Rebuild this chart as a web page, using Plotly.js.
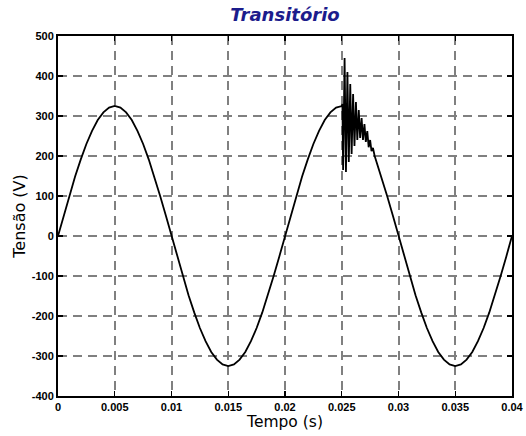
<!DOCTYPE html>
<html>
<head>
<meta charset="utf-8">
<script src="https://cdn.plot.ly/plotly-3.0.1.min.js"></script>
<style>html,body{margin:0;padding:0;background:#fff;}#chart{width:526px;height:436px;}</style>
</head>
<body>
<div id="chart"></div>
<script>
// Tempo (s) and Tensão (V)
var tempoAntes = [0,0.0005,0.001,0.0015,0.002,0.0025,0.003,0.0035,0.004,0.0045,0.005,
  0.0055,0.006,0.0065,0.007,0.0075,0.008,0.0085,0.009,0.0095,0.01,
  0.0105,0.011,0.0115,0.012,0.0125,0.013,0.0135,0.014,0.0145,0.015,
  0.0155,0.016,0.0165,0.017,0.0175,0.018,0.0185,0.019,0.0195,0.02,
  0.0205,0.021,0.0215,0.022,0.0225,0.023,0.0235,0.024,0.0245,0.025];
var tensaoAntes = [0,51,100,148,191,230,263,290,309,321,325,
  321,309,290,263,230,191,148,100,51,0,
  -51,-100,-148,-191,-230,-263,-290,-309,-321,-325,
  -321,-309,-290,-263,-230,-191,-148,-100,-51,0,
  51,100,148,191,230,263,290,309,321,325];
var tempoTransitorio = [0.02506,0.02512,0.02525,0.02537,0.0255,0.02562,0.02575,0.02587,0.026,0.02612,
  0.02625,0.02637,0.0265,0.02662,0.02675,0.02687,0.027,0.02712,0.02725,0.02737,
  0.0275,0.02762,0.02775,0.0279];
var tensaoTransitorio = [330,165,445,160,410,185,380,205,355,225,
  335,240,315,245,295,240,280,235,262,222,
  240,212,220,200];
var tempoDepois = [0.028,0.0285,0.029,0.0295,0.03,0.0305,0.031,0.0315,0.032,0.0325,0.033,
  0.0335,0.034,0.0345,0.035,0.0355,0.036,0.0365,0.037,0.0375,0.038,0.0385,0.039,0.0395,0.04];
var tensaoDepois = [191,148,100,51,0,-51,-100,-148,-191,-230,-263,
  -290,-309,-321,-325,-321,-309,-290,-263,-230,-191,-148,-100,-51,0];

var xTicks = [0,0.005,0.01,0.015,0.02,0.025,0.03,0.035,0.04];
var xTickLabels = ['0','0.005','0.01','0.015','0.02','0.025','0.03','0.035','0.04'];
var yTicks = [-400,-300,-200,-100,0,100,200,300,400,500];
var yTickLabels = ['-400','-300','-200','-100','0','100','200','300','400','500'];

var tempo = tempoAntes.concat(tempoTransitorio, tempoDepois);
var tensao = tensaoAntes.concat(tensaoTransitorio, tensaoDepois);

var trace = {
  x: tempo, y: tensao, type: 'scatter', mode: 'lines',
  line: {color: '#000', width: 1.8},
  hoverinfo: 'skip', showlegend: false
};

var axisCommon = {
  showline: true, linecolor: '#000', linewidth: 2, mirror: 'ticks',
  ticks: 'inside', ticklen: 5, tickwidth: 1.4, tickcolor: '#000',
  showgrid: true, gridcolor: '#808080', gridwidth: 2, griddash: '9px,6px',
  zeroline: false, tickmode: 'array',
  tickfont: {family: 'Liberation Sans, Arial, sans-serif', size: 11, color: '#000', weight: 'bold'}
};

var layout = {
  width: 526, height: 436,
  margin: {l: 58, r: 14, t: 36, b: 40, pad: 0},
  paper_bgcolor: '#fff', plot_bgcolor: '#fff',
  title: {
    text: '<b><i>Transitório</i></b>',
    font: {family: 'DejaVu Sans, sans-serif', size: 18, color: '#1c1c8c'},
    x: 0.5, xref: 'paper', y: 0.966, yref: 'container', yanchor: 'middle'
  },
  xaxis: Object.assign({}, axisCommon, {
    range: [0, 0.04], tickvals: xTicks, ticktext: xTickLabels,
    title: {text: 'Tempo (s)', standoff: 4,
      font: {family: 'DejaVu Sans, sans-serif', size: 15.5, color: '#000'}}
  }),
  yaxis: Object.assign({}, axisCommon, {
    range: [-400, 500], tickvals: yTicks, ticktext: yTickLabels,
    title: {text: 'Tensão (V)', standoff: 2,
      font: {family: 'DejaVu Sans, sans-serif', size: 16, color: '#000'}}
  })
};

Plotly.newPlot('chart', [trace], layout, {staticPlot: true, displayModeBar: false});
</script>
</body>
</html>
